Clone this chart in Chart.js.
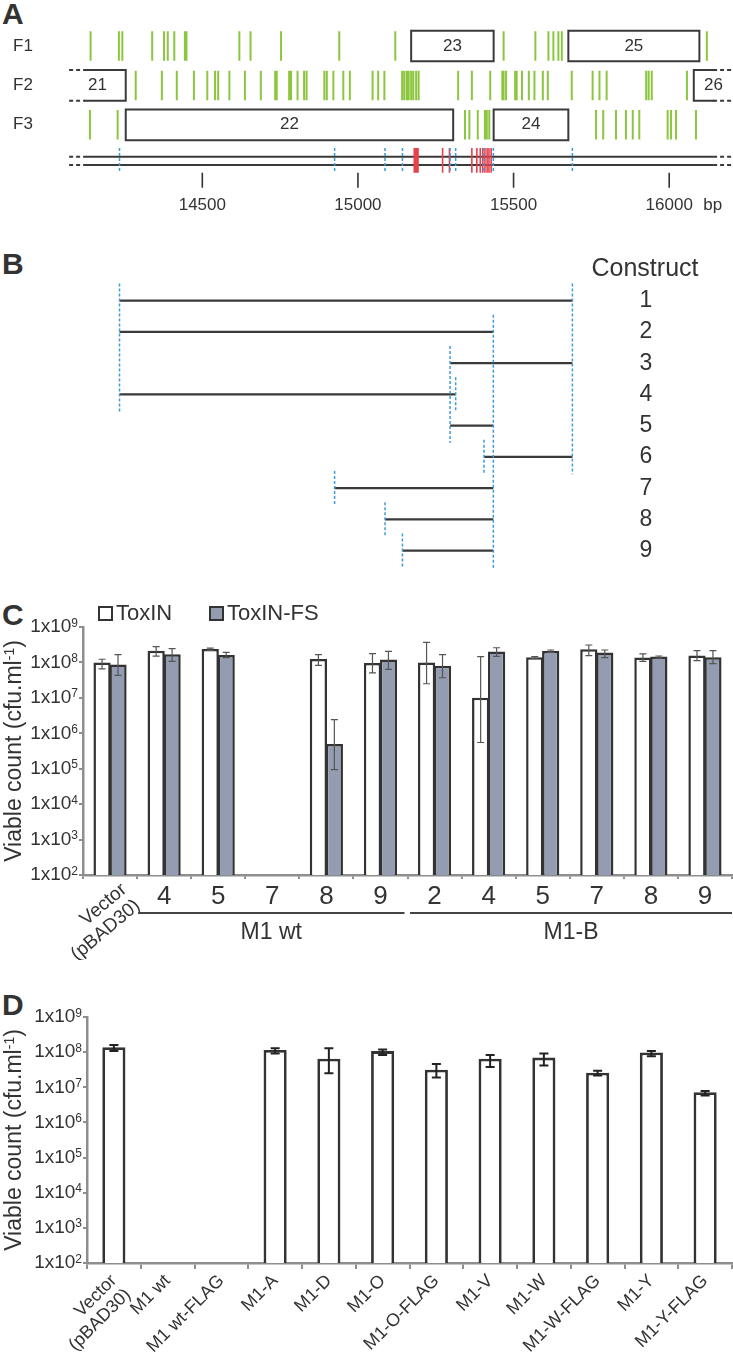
<!DOCTYPE html>
<html>
<head>
<meta charset="utf-8">
<script src="https://cdn.jsdelivr.net/npm/chart.js@4.4.1/dist/chart.umd.min.js"></script>
<style>
  html, body { margin: 0; padding: 0; background: #fff; }
  body { width: 733px; height: 1358px; position: relative; overflow: hidden; }
  canvas { position: absolute; left: 0; }
  .letter { position: absolute; left: 2px; font: bold 30px/30px "Liberation Sans", Arial, sans-serif; color: #333; }
</style>
</head>
<body>
<div class="letter" style="top:-1px">A</div>
<div class="letter" style="top:249px">B</div>
<div class="letter" style="top:600px">C</div>
<div class="letter" style="top:990px">D</div>
<canvas id="chartA" width="733" height="225" style="top:0"></canvas>
<canvas id="chartB" width="733" height="355" style="top:225px"></canvas>
<canvas id="chartC" width="733" height="385" style="top:575px"></canvas>
<canvas id="chartD" width="733" height="398" style="top:960px"></canvas>
<script>
// ---- panel A: reading frames (bp) ----
const bpTicks = [14500, 15000, 15500, 16000];
const frameLabels = ['F1', 'F2', 'F3'];
const stopsF1 = [14141, 14232, 14243, 14339, 14377, 14389, 14410, 14444, 14449, 14619, 14655, 14753, 14940, 15120, 15468, 15570, 15612, 15628, 15644, 15655, 16121];
const stopsF2 = [14286, 14370, 14418, 14473, 14516, 14541, 14551, 14587, 14637, 14688, 14734, 14739, 14779, 14785, 14806, 14827, 14835, 14892, 14900, 14921, 14953, 14974, 15047, 15065, 15085, 15142, 15149, 15157, 15163, 15171, 15178, 15187, 15195, 15322, 15366, 15425, 15464, 15468, 15476, 15505, 15510, 15527, 15549, 15567, 15594, 15610, 15687, 15754, 15776, 15799, 15926, 15934, 15944, 16057];
const stopsF3 = [14139, 14228, 15344, 15358, 15385, 15408, 15414, 15422, 15765, 15788, 15829, 15861, 15883, 15904, 15995, 16006, 16022, 16086];
const orfLabels = ['21', '22', '23', '24', '25', '26'];
const orfFrame = [2, 3, 1, 3, 1, 2];
const orfStart = [13900, 14254, 15171, 15436, 15676, 16079];
const orfEnd = [14254, 15306, 15436, 15676, 16097, 16400];
const regionStart = 14123, regionEnd = 16141;
const shownStart = 14072, shownEnd = 16205;
const redSites = [15181, 15185, 15189, 15193, 15272, 15294, 15366, 15382, 15393, 15401, 15408, 15415, 15421, 15428];

// ---- panel B: constructs ----
const constructNames = ['1', '2', '3', '4', '5', '6', '7', '8', '9'];
const constructStart = [14234, 14234, 15296, 14234, 15296, 15405, 14925, 15087, 15143];
const constructEnd = [15689, 15435, 15689, 15314, 15435, 15689, 15435, 15435, 15435];

// ---- panel C ----
const cCategories = ['Vector (pBAD30)', '4', '5', '7', '8', '9', '2', '4', '5', '7', '8', '9'];
const cGroupLabels = ['M1 wt', 'M1-B'];
const cGroupFirst = [1, 6];
const cGroupLast = [5, 11];
const toxin = [1.0e8, 2.15e8, 2.4e8, null, 1.25e8, 9.7e7, 1.0e8, 1.0e7, 1.39e8, 2.34e8, 1.38e8, 1.58e8];
const toxinLow = [6.6e7, 1.5e8, 2.2e8, null, 8.3e7, 5.1e7, 2.5e7, 5.5e5, 1.28e8, 1.55e8, 1.07e8, 1.12e8];
const toxinHigh = [1.23e8, 2.78e8, 2.55e8, null, 1.66e8, 1.78e8, 3.7e8, 1.45e8, 1.46e8, 3.1e8, 1.74e8, 2.15e8];
const toxinFS = [8.7e7, 1.7e8, 1.63e8, null, 5.0e5, 1.2e8, 8.1e7, 2.05e8, 2.1e8, 1.9e8, 1.46e8, 1.41e8];
const toxinFSLow = [4.3e7, 1.07e8, 1.36e8, null, 9.4e4, 6.4e7, 3.7e7, 1.48e8, 1.93e8, 1.36e8, 1.33e8, 9.3e7];
const toxinFSHigh = [1.66e8, 2.44e8, 1.93e8, null, 2.43e6, 2.05e8, 1.66e8, 2.6e8, 2.24e8, 2.24e8, 1.52e8, 2.15e8];

// ---- panel D ----
const dLabels = [['Vector', '(pBAD30)'], 'M1 wt', 'M1 wt-FLAG', 'M1-A', 'M1-D', 'M1-O', 'M1-O-FLAG', 'M1-V', 'M1-W', 'M1-W-FLAG', 'M1-Y', 'M1-Y-FLAG'];
const dValues = [1.38e8, null, null, 1.15e8, 6.5e7, 1.07e8, 3.15e7, 6.5e7, 7.0e7, 2.6e7, 9.8e7, 7.2e6];
const dLow = [1.08e8, null, null, 9.1e7, 2.5e7, 8.3e7, 1.9e7, 3.8e7, 4.2e7, 2.15e7, 7.7e7, 5.8e6];
const dHigh = [1.6e8, null, null, 1.3e8, 1.3e8, 1.18e8, 4.6e7, 8.3e7, 9.1e7, 2.95e7, 1.08e8, 7.9e6];

const yTicks = [1e2, 1e3, 1e4, 1e5, 1e6, 1e7, 1e8, 1e9];
const yTickLabels = ['1x10^2', '1x10^3', '1x10^4', '1x10^5', '1x10^6', '1x10^7', '1x10^8', '1x10^9'];
const yTitle = 'Viable count (cfu.ml^-1)';

const FONT = '"Liberation Sans", Arial, sans-serif';
const TEXT = '#333';
const AXIS = '#8e8e8e';
const GREEN = '#8cc63f';
const BLUE = '#3d9bd8';
const RED = '#e8414c';

// helpers for line marks
function toPoints(list) {
  const pts = [];
  list.forEach(([x1, y1, x2, y2]) => pts.push({x: x1, y: y1}, {x: x2, y: y2}, {x: x2, y: null}));
  return pts;
}
function lineSet(label, list, color, width, dash, cap) {
  return {label, data: toPoints(list), showLine: true, spanGaps: false, borderColor: color, borderWidth: width,
    borderDash: dash || [], borderCapStyle: cap || 'butt', pointRadius: 0, fill: false, tension: 0};
}
const vlines = (xs, y1, y2) => xs.map(x => [x, y1, x, y2]);

// text with superscript, parts split by '^' (superscript runs to ')' or end)
function richParts(s) {
  const i = s.indexOf('^');
  if (i < 0) return [[s, false]];
  const rest = s.slice(i + 1);
  const j = rest.indexOf(')');
  const sup = j < 0 ? rest : rest.slice(0, j);
  const tail = j < 0 ? '' : rest.slice(j);
  return [[s.slice(0, i), false], [sup, true], [tail, false]];
}
function drawRich(ctx, s, x, y, size, supSize, align) {
  const parts = richParts(s);
  let w = 0;
  parts.forEach(([t, sup]) => { ctx.font = `${sup ? supSize : size}px ${FONT}`; w += ctx.measureText(t).width; });
  let cx = align === 'right' ? x - w : align === 'center' ? x - w / 2 : x;
  ctx.textAlign = 'left';
  ctx.textBaseline = 'middle';
  parts.forEach(([t, sup]) => {
    ctx.font = `${sup ? supSize : size}px ${FONT}`;
    ctx.fillText(t, cx, sup ? y - 0.4 * (size - supSize) - 1 : y);
    cx += ctx.measureText(t).width;
  });
}

// ---------------- panel A ----------------
const A_ROW = {genome: [2.81, 3.02], mark: [2.59, 3.22], tick: [3.22, 3.6], tickLabel: 4.04, stopHalf: 0.375, boxHalf: 0.39};
const endpoints = [...new Set(constructStart.concat(constructEnd))];

const stopSegs = [];
[stopsF1, stopsF2, stopsF3].forEach((xs, r) => stopSegs.push(...vlines(xs, r - A_ROW.stopHalf, r + A_ROW.stopHalf)));

const boxSegs = [], boxDash = [];
orfLabels.forEach((lab, i) => {
  const r = orfFrame[i] - 1, t = r - A_ROW.boxHalf, b = r + A_ROW.boxHalf;
  const s = Math.max(orfStart[i], regionStart), e = Math.min(orfEnd[i], regionEnd);
  boxSegs.push([s, t, e, t], [s, b, e, b]);
  if (orfStart[i] >= regionStart) boxSegs.push([s, t, s, b]);
  if (orfEnd[i] <= regionEnd) boxSegs.push([e, t, e, b]);
  if (orfStart[i] < regionStart) boxDash.push([shownStart, t, regionStart, t], [shownStart, b, regionStart, b]);
  if (orfEnd[i] > regionEnd) boxDash.push([regionEnd, t, shownEnd, t], [regionEnd, b, shownEnd, b]);
});
const genomeSegs = A_ROW.genome.map(g => [regionStart, g, regionEnd, g]);
const genomeDash = [];
A_ROW.genome.forEach(g => genomeDash.push([shownStart, g, regionStart, g], [regionEnd, g, shownEnd, g]));

const textA = {
  id: 'textA',
  afterDatasetsDraw(chart) {
    const {ctx, scales: {x, y}} = chart;
    ctx.save();
    ctx.fillStyle = TEXT;
    ctx.font = `17px ${FONT}`;
    ctx.textBaseline = 'middle';
    ctx.textAlign = 'left';
    frameLabels.forEach((f, i) => ctx.fillText(f, 13, y.getPixelForValue(i)));
    ctx.textAlign = 'center';
    orfLabels.forEach((lab, i) => {
      const cx = (x.getPixelForValue(Math.max(orfStart[i], shownStart)) + x.getPixelForValue(Math.min(orfEnd[i], shownEnd))) / 2;
      ctx.fillText(lab, cx, y.getPixelForValue(orfFrame[i] - 1));
    });
    const ty = y.getPixelForValue(A_ROW.tickLabel);
    bpTicks.forEach(t => ctx.fillText(String(t), x.getPixelForValue(t), ty));
    ctx.textAlign = 'left';
    ctx.fillText('bp', x.getPixelForValue(bpTicks[bpTicks.length - 1]) + 34, ty);
    ctx.restore();
  }
};

const hiddenLinear = (min, max, reverse) => ({type: 'linear', min, max, reverse: !!reverse, display: false});

new Chart(document.getElementById('chartA'), {
  type: 'scatter',
  data: {datasets: [
    lineSet('construct ends', vlines(endpoints, A_ROW.mark[0], A_ROW.mark[1]), BLUE, 1.5, [3, 2]),
    lineSet('sites', vlines(redSites, A_ROW.mark[0], A_ROW.mark[1]), RED, 1.6),
    lineSet('stops', stopSegs, GREEN, 2),
    lineSet('ORFs', boxSegs, '#3a3a3a', 2, [], 'square'),
    lineSet('ORFs cont.', boxDash, '#3a3a3a', 2, [4, 3]),
    lineSet('genome', genomeSegs, '#3a3a3a', 2),
    lineSet('genome cont.', genomeDash, '#3a3a3a', 2, [4, 3]),
    lineSet('ticks', vlines(bpTicks, A_ROW.tick[0], A_ROW.tick[1]), '#333', 1.6)
  ]},
  options: {
    responsive: false, animation: false,
    layout: {padding: 0},
    plugins: {legend: {display: false}, tooltip: {enabled: false}},
    scales: {x: hiddenLinear(13850, 16205), y: hiddenLinear(-1.1675, 4.5431, true)}
  },
  plugins: [textA]
});

// ---------------- panel B ----------------
const endSegs = endpoints.map(e => {
  const rows = [];
  constructNames.forEach((n, i) => { if (constructStart[i] === e || constructEnd[i] === e) rows.push(i + 1); });
  return [e, Math.min(...rows) - 0.55, e, Math.max(...rows) + 0.55];
});
const constructSegs = constructNames.map((n, i) => [constructStart[i], i + 1, constructEnd[i], i + 1]);

const textB = {
  id: 'textB',
  afterDatasetsDraw(chart) {
    const {ctx, chartArea, scales: {y}} = chart;
    const cx = chartArea.right - 88;
    ctx.save();
    ctx.fillStyle = TEXT;
    ctx.textAlign = 'center';
    ctx.textBaseline = 'middle';
    ctx.font = `25px ${FONT}`;
    ctx.fillText('Construct', cx, y.getPixelForValue(0));
    ctx.font = `23px ${FONT}`;
    constructNames.forEach((n, i) => ctx.fillText(n, cx + 1, y.getPixelForValue(i + 1)));
    ctx.restore();
  }
};

new Chart(document.getElementById('chartB'), {
  type: 'scatter',
  data: {datasets: [
    lineSet('construct ends', endSegs, BLUE, 1.5, [3, 2]),
    lineSet('constructs', constructSegs, '#3a3a3a', 2.2)
  ]},
  options: {
    responsive: false, animation: false,
    layout: {padding: 0},
    plugins: {legend: {display: false}, tooltip: {enabled: false}},
    scales: {x: hiddenLinear(13850, 16205), y: hiddenLinear(-1.4224, 9.9376, true)}
  },
  plugins: [textB]
});

// ---------------- shared for C and D ----------------
const logAxisText = {
  id: 'logAxisText',
  afterDraw(chart) {
    const {ctx, chartArea, scales: {y}} = chart;
    ctx.save();
    ctx.fillStyle = TEXT;
    yTicks.forEach((v, i) => drawRich(ctx, yTickLabels[i], chartArea.left - 5, y.getPixelForValue(v), 19, 12, 'right'));
    ctx.translate(15, (chartArea.top + chartArea.bottom) / 2);
    ctx.rotate(-Math.PI / 2);
    drawRich(ctx, yTitle, 0, 0, 23, 14, 'center');
    ctx.restore();
  }
};

const errorBars = {
  id: 'errorBars',
  afterDatasetsDraw(chart, args, opts) {
    const {ctx, scales: {y}} = chart;
    ctx.save();
    ctx.strokeStyle = opts.color;
    ctx.lineWidth = opts.width;
    opts.low.forEach((lows, di) => {
      const meta = chart.getDatasetMeta(di);
      lows.forEach((lo, i) => {
        const hi = opts.high[di][i];
        if (lo == null || hi == null) return;
        const x = meta.data[i].x, y1 = y.getPixelForValue(lo), y2 = y.getPixelForValue(hi);
        ctx.beginPath();
        ctx.moveTo(x, y1); ctx.lineTo(x, y2);
        ctx.moveTo(x - opts.cap, y1); ctx.lineTo(x + opts.cap, y1);
        ctx.moveTo(x - opts.cap, y2); ctx.lineTo(x + opts.cap, y2);
        ctx.stroke();
      });
    });
    ctx.restore();
  }
};

function logY(width) {
  return {
    type: 'logarithmic', min: 1e2, max: 1e9,
    grid: {drawOnChartArea: false, drawTicks: true, tickLength: 4, color: AXIS, lineWidth: 2},
    border: {display: true, color: AXIS, width: 2.5},
    ticks: {display: false},
    afterBuildTicks: s => { s.ticks = yTicks.map(v => ({value: v})); },
    afterFit: s => { s.width = width; }
  };
}

// ---------------- panel C ----------------
const cExtras = {
  id: 'cExtras',
  afterDraw(chart) {
    const {ctx, chartArea, scales: {x}} = chart;
    const catW = (chartArea.right - chartArea.left) / cCategories.length;
    ctx.save();
    ctx.fillStyle = TEXT;
    // legend from the datasets
    chart.data.datasets.forEach((ds, i) => {
      const bx = [99, 210][i];
      ctx.fillStyle = ds.backgroundColor;
      ctx.fillRect(bx, 32, 13, 13);
      ctx.strokeStyle = '#333';
      ctx.lineWidth = 2;
      ctx.strokeRect(bx, 32, 13, 13);
      ctx.fillStyle = TEXT;
      ctx.font = `22px ${FONT}`;
      ctx.textAlign = 'left';
      ctx.textBaseline = 'middle';
      ctx.fillText(ds.label, bx + 17, 39);
    });
    // rotated vector label
    const words = cCategories[0].split(' ');
    ctx.save();
    ctx.translate(x.getPixelForValue(0) + 8, chartArea.bottom + 5);
    ctx.rotate(-40 * Math.PI / 180);
    ctx.font = `19px ${FONT}`;
    ctx.textAlign = 'right';
    ctx.textBaseline = 'top';
    ctx.fillText(words[0], 0, 0);
    ctx.fillText(words[1], 0, 21);
    ctx.restore();
    // group brackets
    ctx.strokeStyle = '#444';
    ctx.lineWidth = 2;
    ctx.font = `23px ${FONT}`;
    ctx.textAlign = 'center';
    ctx.textBaseline = 'middle';
    cGroupLabels.forEach((g, i) => {
      const x1 = x.getPixelForValue(cGroupFirst[i]) - catW / 2 + (i === 0 ? 1 : 2.5);
      const x2 = Math.min(x.getPixelForValue(cGroupLast[i]) + catW / 2 - (i === 0 ? 3 : 0), chart.width);
      const ly = chartArea.bottom + 38;
      ctx.beginPath(); ctx.moveTo(x1, ly); ctx.lineTo(x2, ly); ctx.stroke();
      ctx.fillText(g, (x1 + x2) / 2, ly + 20);
    });
    ctx.restore();
  }
};

new Chart(document.getElementById('chartC'), {
  type: 'bar',
  data: {
    labels: cCategories,
    datasets: [
      {label: 'ToxIN', data: toxin, backgroundColor: '#ffffff', borderColor: '#333', borderWidth: 2.5},
      {label: 'ToxIN-FS', data: toxinFS, backgroundColor: '#939cb0', borderColor: '#333', borderWidth: 2.5}
    ]
  },
  options: {
    responsive: false, animation: false,
    layout: {padding: {top: 52, left: 0, right: 1, bottom: 0}},
    datasets: {bar: {categoryPercentage: 0.59, barPercentage: 1.08}},
    plugins: {
      legend: {display: false}, tooltip: {enabled: false},
      errorBars: {low: [toxinLow, toxinFSLow], high: [toxinHigh, toxinFSHigh], color: '#555', width: 1.2, cap: 3.5}
    },
    scales: {
      x: {
        grid: {offset: true, drawOnChartArea: false, drawTicks: true, tickLength: 4, color: AXIS, lineWidth: 2},
        border: {display: true, color: AXIS, width: 2.5},
        ticks: {autoSkip: false, maxRotation: 0, minRotation: 0, padding: 2, color: TEXT,
          font: {family: FONT, size: 26}, callback: (v, i) => i === 0 ? '' : cCategories[i]},
        afterFit: s => { s.height = 85; }
      },
      y: logY(83)
    }
  },
  plugins: [errorBars, logAxisText, cExtras]
});

// ---------------- panel D ----------------
new Chart(document.getElementById('chartD'), {
  type: 'bar',
  data: {
    labels: dLabels,
    datasets: [{label: 'Viable count', data: dValues, backgroundColor: '#ffffff', borderColor: '#333', borderWidth: 2.8}]
  },
  options: {
    responsive: false, animation: false,
    layout: {padding: {top: 57, left: 0, right: 1, bottom: 0}},
    datasets: {bar: {categoryPercentage: 0.43, barPercentage: 1}},
    plugins: {
      legend: {display: false}, tooltip: {enabled: false},
      errorBars: {low: [dLow], high: [dHigh], color: '#222', width: 2, cap: 4.5}
    },
    scales: {
      x: {
        grid: {offset: true, drawOnChartArea: false, drawTicks: true, tickLength: 6, color: AXIS, lineWidth: 2},
        border: {display: true, color: AXIS, width: 2.5},
        ticks: {autoSkip: false, maxRotation: 45, minRotation: 45, padding: 2, color: TEXT,
          font: {family: FONT, size: 18, lineHeight: 1.1}},
        afterFit: s => { s.height = 95; }
      },
      y: logY(87)
    }
  },
  plugins: [errorBars, logAxisText]
});
</script>
</body>
</html>
